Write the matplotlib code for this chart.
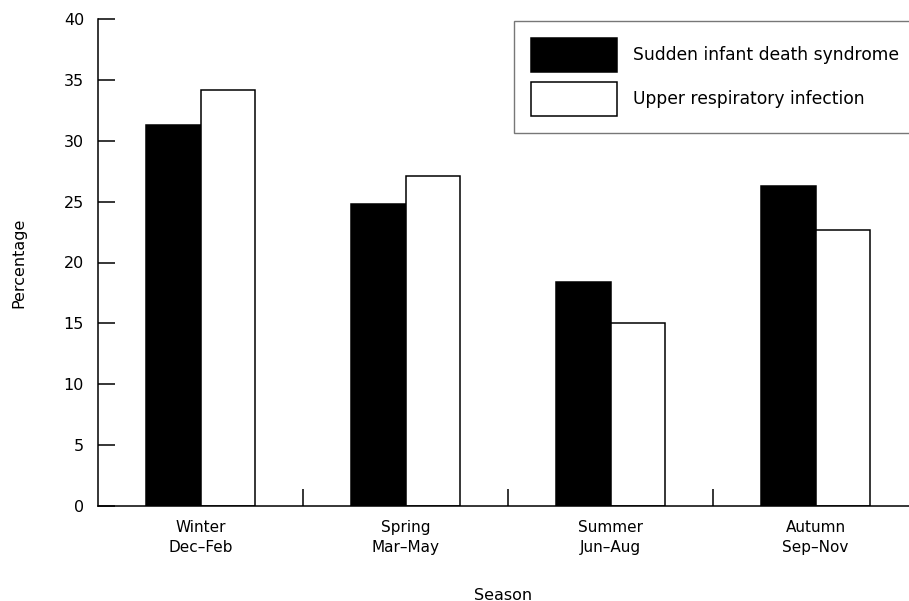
import numpy as np
import matplotlib.pyplot as plt
from matplotlib.ticker import FixedLocator

seasons = ['Winter\nDec\u2013Feb', 'Spring\nMar\u2013May', 'Summer\nJun\u2013Aug', 'Autumn\nSep\u2013Nov']
sids = [31.3, 24.8, 18.4, 26.3]
uri = [34.2, 27.1, 15.0, 22.7]

plt.rcParams['font.family'] = ['DejaVu Sans']

fig = plt.figure(figsize=(9.09, 6.01), dpi=100)
ax = fig.add_axes([98 / 909, 95 / 601, 1 - 98 / 909, (506 - 19) / 601])

x = np.arange(len(seasons))
w = 0.268
ax.bar(x - w / 2, sids, w, color='black', edgecolor='black', linewidth=1.1,
       label='Sudden infant death syndrome')
ax.bar(x + w / 2, uri, w, color='white', edgecolor='black', linewidth=1.1,
       label='Upper respiratory infection')

ax.set_xlim(-0.5, 3.456)
ax.set_ylim(0, 40)
ax.set_yticks(range(0, 41, 5))
ax.set_xticks(x)
ax.set_xticklabels(seasons, fontsize=11, linespacing=1.4)
ax.xaxis.set_minor_locator(FixedLocator([0.5, 1.5, 2.5]))

ax.tick_params(axis='y', direction='in', length=12, width=1.1, pad=10, labelsize=11.5)
ax.tick_params(axis='x', which='major', length=0, pad=10)
ax.tick_params(axis='x', which='minor', direction='in', length=12, width=1.1)

for s in ['top', 'right']:
    ax.spines[s].set_visible(False)
for s in ['left', 'bottom']:
    ax.spines[s].set_linewidth(1.1)

ax.set_ylabel('Percentage', fontsize=11.5, labelpad=27)
fig.text(503 / 909, 1 - 595 / 601, 'Season', ha='center', va='center', fontsize=11.5)

leg = ax.legend(loc='upper left', bbox_to_anchor=(514 / 909, 1 - 21 / 601),
                bbox_transform=fig.transFigure, fontsize=12.3, frameon=True,
                fancybox=False, edgecolor='#555555', handlelength=5.0,
                handleheight=2.7, handletextpad=0.95, labelspacing=0.55,
                borderpad=1.0, borderaxespad=0)
leg.get_frame().set_linewidth(1.0)

fig.savefig('out.png', dpi=100)
